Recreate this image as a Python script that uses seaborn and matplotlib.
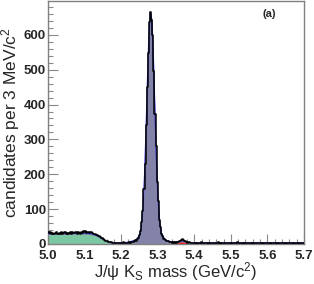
import numpy as np
import pandas as pd
import matplotlib
matplotlib.use("Agg")
import matplotlib.pyplot as plt
import seaborn as sns
from matplotlib.ticker import MultipleLocator, FormatStrFormatter

# ---------------- data ----------------
mass_lo = 5.0
bin_width = 0.003  # GeV (3 MeV bins)

counts = [
    33, 31, 34, 30, 32, 29, 31, 33, 30, 28,
    31, 30, 33, 29, 32, 34, 30, 31, 28, 32,
    33, 30, 35, 32, 31, 34, 29, 33, 32, 30,
    34, 31, 36, 33, 38, 32, 35, 31, 33, 34,
    31, 30, 28, 29, 26, 25, 22, 21, 18, 16,
    14, 12, 10, 8, 8, 6, 5, 6, 4, 4,
    3, 4, 2, 3, 4, 3, 2, 3, 5, 2,
    3, 4, 3, 4, 5, 4, 6, 5, 8, 11,
    10, 15, 17, 27, 36, 63, 94, 158, 230, 342,
    451, 548, 636, 665, 643, 600, 497, 372, 281, 179,
    122, 70, 48, 28, 22, 14, 13, 11, 8, 9,
    7, 6, 6, 4, 5, 4, 5, 3, 6, 8,
    10, 12, 14, 11, 10, 8, 6, 4, 5, 3,
    4,
    3, 2, 4, 3, 1, 4, 3, 2, 5, 3,
    2, 3, 4, 2, 3, 1, 3, 4, 2, 3,
    4, 2, 3, 3, 5, 2, 1, 3, 4, 2,
    3, 2, 4, 3, 2, 3, 1, 4, 3, 2,
    3, 5, 2, 3, 2, 4, 3, 1, 2, 3,
    4, 2, 3, 2, 3, 1, 4, 3, 2, 3,
    2, 4, 3, 2, 1, 3, 2, 4, 3, 2,
    3, 1, 2, 4, 3, 2, 3, 2, 1, 3,
    2, 3, 4, 2, 3, 1, 2, 3, 2, 4,
    2, 3, 1, 2, 3, 2, 4, 1, 2, 3, 2, 3,
]

fit_x = [5.000, 5.020, 5.040, 5.060, 5.080, 5.100, 5.110, 5.120, 5.130, 5.140,
         5.150, 5.160, 5.170, 5.180, 5.190, 5.200, 5.220, 5.240, 5.250, 5.255,
         5.260, 5.264, 5.268, 5.272, 5.276, 5.280, 5.284, 5.288, 5.292, 5.296,
         5.300, 5.305, 5.310, 5.320, 5.330, 5.340, 5.350, 5.356, 5.362, 5.368,
         5.374, 5.380, 5.390, 5.400, 5.450, 5.500, 5.550, 5.600, 5.650, 5.700]

fit_partreco = [27.0, 27.0, 27.5, 27.5, 28.0, 28.0, 27.5, 26.0, 23.0, 18.0,
                11.0, 5.5, 2.0, 0.5, 0.0, 0.0, 0.0, 0.0, 0.0, 0.0,
                0.0, 0.0, 0.0, 0.0, 0.0, 0.0, 0.0, 0.0, 0.0, 0.0,
                0.0, 0.0, 0.0, 0.0, 0.0, 0.0, 0.0, 0.0, 0.0, 0.0,
                0.0, 0.0, 0.0, 0.0, 0.0, 0.0, 0.0, 0.0, 0.0, 0.0]

fit_b0 = [0.0, 0.0, 0.0, 0.0, 0.0, 0.0, 0.0, 0.0, 0.0, 0.0,
          0.0, 0.0, 0.0, 0.0, 0.0, 0.3, 2.0, 8.2, 21.0, 45.0,
          105.0, 193.0, 320.0, 467.0, 596.0, 662.0, 639.0, 537.0, 393.0, 252.0,
          144.0, 64.0, 28.0, 9.4, 4.8, 2.3, 0.95, 0.5, 0.3, 0.2,
          0.1, 0.0, 0.0, 0.0, 0.0, 0.0, 0.0, 0.0, 0.0, 0.0]

fit_bs = [0.0, 0.0, 0.0, 0.0, 0.0, 0.0, 0.0, 0.0, 0.0, 0.0,
          0.0, 0.0, 0.0, 0.0, 0.0, 0.0, 0.0, 0.0, 0.0, 0.0,
          0.0, 0.0, 0.0, 0.0, 0.0, 0.0, 0.0, 0.0, 0.0, 0.0,
          0.0, 0.0, 0.0, 0.0, 0.0, 0.25, 1.75, 3.6, 5.5, 6.0,
          4.6, 2.6, 0.5, 0.0, 0.0, 0.0, 0.0, 0.0, 0.0, 0.0]

comb_level = 3.0

x_ticks = [5.0, 5.1, 5.2, 5.3, 5.4, 5.5, 5.6, 5.7]
y_ticks = [0, 100, 200, 300, 400, 500, 600]

# ---------------- style ----------------
sns.set_style("ticks")
plt.rcParams["font.family"] = ["Liberation Sans", "DejaVu Sans"]
plt.rcParams["mathtext.fontset"] = "custom"
plt.rcParams["mathtext.rm"] = "Liberation Sans"
plt.rcParams["mathtext.it"] = "Liberation Sans:italic"
plt.rcParams["mathtext.bf"] = "Liberation Sans:bold"
plt.rcParams["mathtext.default"] = "regular"

fig = plt.figure(figsize=(3.14, 2.84), dpi=100)
ax = fig.add_axes([48 / 314, 40 / 284, 256 / 314, 243 / 284])

n = len(counts)
lo_edge = mass_lo
hi_edge = mass_lo + bin_width * n
centers = mass_lo + bin_width * (np.arange(n) + 0.5)
df = pd.DataFrame({"mass": centers, "n": np.asarray(counts, dtype=float)})

fx = np.array(fit_x)
pr = np.array(fit_partreco)
b0 = np.array(fit_b0)
bs = np.array(fit_bs)
total = pr + b0 + bs + comb_level
fit_df = pd.DataFrame({"mass": fx, "total": total})

ax.fill_between(fx, 0, total, color="#8383aa", lw=0, zorder=1)
ax.fill_between(fx, 0, pr, color="#7cc8a2", lw=0, zorder=2)
ax.fill_between(fx, 0, bs, color="#ff1a1a", lw=0, zorder=2)
sns.lineplot(data=fit_df, x="mass", y="total", color="#2a2ad0", lw=0.9,
             sort=False, estimator=None, ax=ax, zorder=3)
sns.histplot(data=df, x="mass", weights="n", bins=n, binrange=(lo_edge, hi_edge),
             element="step", fill=False, color="black", lw=1.1, ax=ax, zorder=4)

ax.set_xlim(5.0, 5.7)
ax.set_ylim(0, 697)
ax.xaxis.set_minor_locator(MultipleLocator(0.02))
ax.yaxis.set_minor_locator(MultipleLocator(20))
ax.set_xticks(x_ticks)
ax.set_yticks(y_ticks)
ax.xaxis.set_major_formatter(FormatStrFormatter("%.1f"))

ax.tick_params(axis="both", which="both", direction="in", color="#8a8a8a",
               top=False, right=False)
ax.tick_params(axis="both", which="major", length=7, width=0.8, labelsize=9.5)
ax.tick_params(axis="x", which="major", pad=4)
ax.tick_params(axis="y", which="major", pad=1.5)
ax.tick_params(axis="both", which="minor", length=3.5, width=0.8)
for lab in ax.get_xticklabels():
    lab.set_fontweight("bold")
for lab in ax.get_yticklabels():
    lab.set_fontweight("bold")
    lab.set_verticalalignment("center_baseline")

for sp in ax.spines.values():
    sp.set_color("#808080")
    sp.set_linewidth(1.0)

ax.set_xlabel("J/\u03c8 K$_{S}$ mass (GeV/c$^{2}$)", fontsize=12, labelpad=-1)
ax.set_ylabel("candidates per 3 MeV/c$^{2}$", fontsize=12.5, labelpad=1)

ax.text(0.865, 0.945, "(a)", transform=ax.transAxes, fontsize=8,
        fontweight="bold", ha="center", va="center")

fig.savefig("out.png", dpi=100)
